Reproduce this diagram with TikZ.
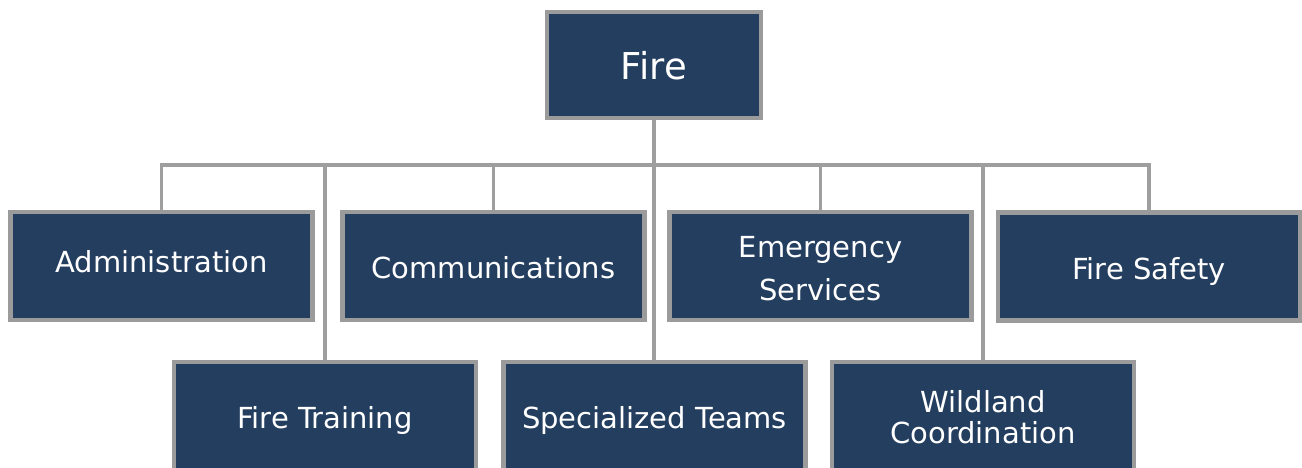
\documentclass[tikz,border=0pt]{standalone}
\usepackage{fontspec}
\setmainfont{DejaVu Sans}
\definecolor{boxfill}{HTML}{243E5F}
\definecolor{boxline}{HTML}{9B9B9B}
\definecolor{connline}{HTML}{9E9E9E}
\pgfdeclarelayer{background}
\pgfsetlayers{background,main}
\tikzset{
  unit/.style={draw=boxline, line width=4.5pt, fill=boxfill, text=white,
    inner sep=0pt, minimum width=302pt, minimum height=108pt, align=center,
    font=\fontsize{29}{31}\selectfont, text height=25pt, text depth=0pt},
  topunit/.style={unit, minimum width=214pt, minimum height=106pt,
    font=\fontsize{37}{40}\selectfont, text height=30pt, text depth=0pt},
  conn/.style={draw=connline, line width=3.5pt}
}
\begin{document}
\begin{tikzpicture}[x=1pt,y=-1pt]
\useasboundingbox (0,0) rectangle (1302,468);
\coordinate (bus) at (654,165);
% nodes
\node[topunit] (fire) at (654,65) {Fire};
\node[unit, text depth=12pt] (admin) at (161.5,266) {Administration};
\node[unit] (comm) at (493.5,266) {Communications};
\node[unit, text height=68pt] (emerg) at (820.5,266) {Emergency\\[12pt]Services};
\node[unit] (safety) at (1149,266.5) {Fire Safety};
\node[unit] (training) at (325,416) {Fire Training};
\node[unit] (special) at (654.5,416) {Specialized Teams};
\node[unit, text height=54pt] (wild) at (983,416) {Wildland\\Coordination};
% connectors behind boxes
\begin{pgfonlayer}{background}
\path[conn] (fire.south) -- (fire.south |- special.north);
\path[conn] (admin.north) |- (bus);
\path[conn] (comm.north) |- (bus);
\path[conn] (training.north) |- (bus);
\path[conn] (emerg.north) |- (bus);
\path[conn] (safety.north) |- (bus);
\path[conn] (wild.north) |- (bus);
\end{pgfonlayer}
\end{tikzpicture}
\end{document}
